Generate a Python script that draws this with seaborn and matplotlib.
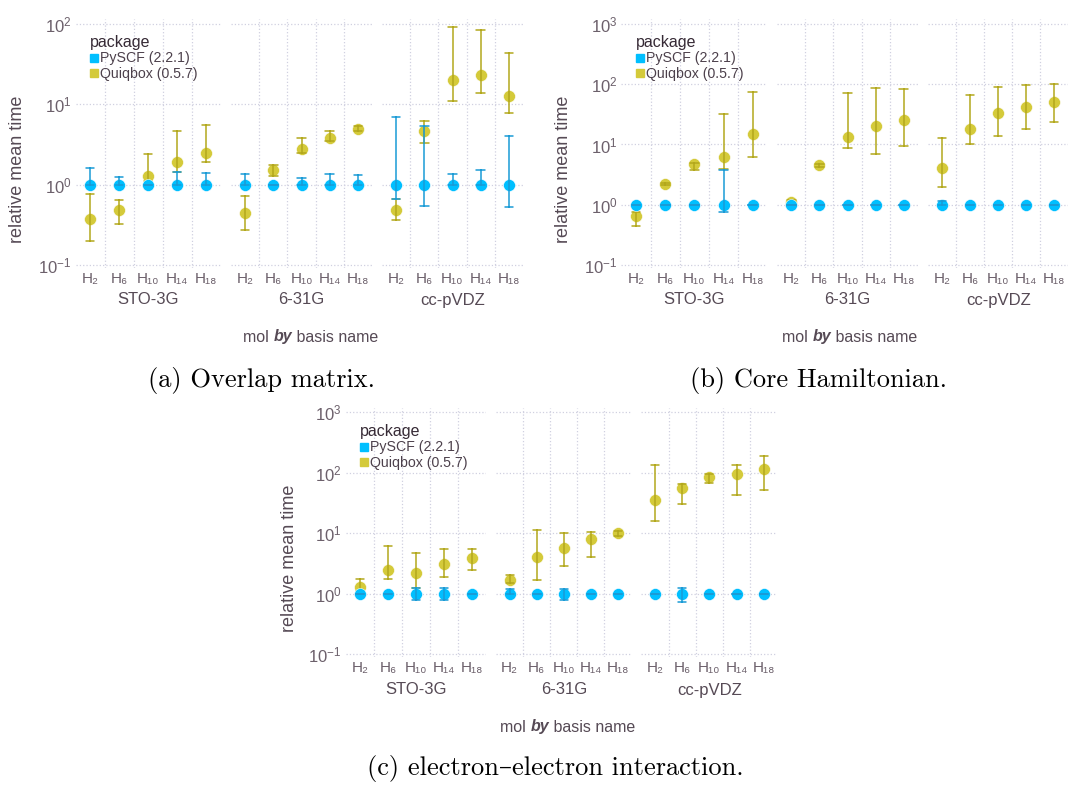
import numpy as np
import pandas as pd
import seaborn as sns
import matplotlib.pyplot as plt
from matplotlib.lines import Line2D

# ----- data (relative mean time, lo / mean / hi) -----
mols = ['H₂', 'H₆', 'H₁₀', 'H₁₄', 'H₁₈']
bases = ['STO-3G', '6-31G', 'cc-pVDZ']
packages = ['PySCF (2.2.1)', 'Quiqbox (0.5.7)']

# values ordered basis by basis (STO-3G, 6-31G, cc-pVDZ), mols H2..H18 inside
pyscf_mean = [1.0, 1.0, 1.0, 1.0, 1.0, 1.0, 1.0, 1.0, 1.0, 1.0, 1.0, 1.0, 1.0, 1.0, 1.0]

# (a) overlap matrix
overlap_pyscf_lo = [1.0, 1.0, 1.0, 1.0, 1.0, 1.0, 1.0, 1.0, 1.0, 1.0, 0.66, 0.55, 1.0, 1.0, 0.53]
overlap_pyscf_hi = [1.62, 1.26, 1.0, 1.45, 1.41, 1.34, 1.0, 1.22, 1.36, 1.32, 7.0, 5.37, 1.36, 1.52, 4.0]
overlap_quiq_mean = [0.37, 0.49, 1.28, 1.93, 2.48, 0.44, 1.51, 2.81, 3.84, 4.88, 0.49, 4.6, 19.9, 23.4, 12.8]
overlap_quiq_lo = [0.197, 0.327, 1.1, 1.45, 1.93, 0.273, 1.3, 2.5, 3.5, 4.6, 0.364, 3.27, 11.0, 13.7, 7.9]
overlap_quiq_hi = [0.76, 0.645, 2.38, 4.7, 5.6, 0.73, 1.77, 3.81, 4.7, 5.4, 0.66, 6.25, 93.0, 85.0, 43.5]

# (b) core Hamiltonian
core_pyscf_lo = [1.0, 1.0, 1.0, 0.756, 1.0, 1.0, 1.0, 1.0, 1.0, 1.0, 1.0, 1.0, 1.0, 1.0, 1.0]
core_pyscf_hi = [1.0, 1.0, 1.0, 3.76, 1.0, 1.0, 1.0, 1.0, 1.0, 1.0, 1.15, 1.0, 1.0, 1.0, 1.0]
core_quiq_mean = [0.65, 2.2, 4.72, 6.17, 15.2, 1.12, 4.54, 13.4, 20.6, 25.3, 4.1, 18.2, 33.0, 42.0, 51.6]
core_quiq_lo = [0.45, 2.1, 3.76, 3.9, 6.25, 1.05, 4.3, 8.8, 6.9, 9.4, 1.94, 10.1, 13.7, 18.0, 23.2]
core_quiq_hi = [0.75, 2.3, 5.0, 31.8, 74.5, 1.2, 4.8, 72.7, 86.0, 84.0, 12.6, 66.0, 89.0, 98.0, 100.0]

# (c) electron-electron interaction
eri_pyscf_lo = [1.0, 1.0, 0.8, 0.8, 1.0, 1.0, 1.0, 0.8, 1.0, 1.0, 1.0, 0.73, 1.0, 1.0, 1.0]
eri_pyscf_hi = [1.0, 1.0, 1.25, 1.25, 1.0, 1.2, 1.0, 1.2, 1.0, 1.0, 1.0, 1.25, 1.0, 1.0, 1.0]
eri_quiq_mean = [1.29, 2.47, 2.17, 3.1, 3.85, 1.7, 4.1, 5.78, 8.05, 10.0, 35.3, 57.0, 86.6, 96.0, 117.0]
eri_quiq_lo = [1.1, 1.77, 1.27, 1.86, 2.47, 1.5, 1.7, 2.83, 4.1, 9.0, 16.2, 30.0, 67.0, 43.0, 52.0]
eri_quiq_hi = [1.77, 6.16, 4.77, 5.4, 5.55, 2.06, 11.2, 10.1, 10.5, 11.0, 133.0, 65.0, 95.0, 132.0, 193.0]

captions = ['(a) Overlap matrix.', '(b) Core Hamiltonian.', '(c) electron–electron interaction.']

# gadfly-like look
pkg_colors = {packages[0]: '#00BFFF', packages[1]: '#D4CA3A'}
err_colors = {packages[0]: '#1a9bd6', packages[1]: '#b3a81c'}
grid_col = '#D0D0E0'
tick_col = '#6c606b'
label_col = '#564a55'

sns.set_style('white')
plt.rcParams['font.family'] = ['Liberation Sans', 'DejaVu Sans']
plt.rcParams['mathtext.fontset'] = 'custom'
plt.rcParams['mathtext.rm'] = 'Liberation Sans'
plt.rcParams['mathtext.it'] = 'Liberation Sans:italic'

W, H = 1086, 785
fig = plt.figure(figsize=(W / 100, H / 100), dpi=100)


def px_axes(x0, y0, x1, y1):
    return fig.add_axes([x0 / W, 1 - y1 / H, (x1 - x0) / W, (y1 - y0) / H])


def fx(x):
    return x / W


def fy(y):
    return 1 - y / H


def long_frame(pyscf_lo, pyscf_hi, quiq_mean, quiq_lo, quiq_hi):
    rows = []
    for pkg, series in [(packages[0], (pyscf_lo, pyscf_mean, pyscf_hi)),
                        (packages[1], (quiq_lo, quiq_mean, quiq_hi))]:
        for i in range(len(bases) * len(mols)):
            for arr in series:
                rows.append({'basis': bases[i // 5], 'mol': mols[i % 5],
                             'package': pkg, 'value': arr[i]})
    return pd.DataFrame(rows)


def min_max(v):
    return (v.min(), v.max())


def draw_panel(df, facets, y0, y1, ylim, decades, ylab_pos, text_y, xlab_x, caption, cap_pos):
    for k, (basis, (x0, x1)) in enumerate(zip(bases, facets)):
        ax = px_axes(x0, y0, x1, y1)
        ax.set_yscale('log')
        # quiqbox first so the pyscf dots sit on top
        for pkg in [packages[1], packages[0]]:
            sub = df[(df['basis'] == basis) & (df['package'] == pkg)]
            sns.pointplot(data=sub, x='mol', y='value', order=mols, ax=ax,
                          estimator='median', errorbar=min_max,
                          color=pkg_colors[pkg], linestyle='none', markers='o',
                          markersize=8.6, markeredgecolor='white', markeredgewidth=0.4,
                          capsize=0.3, err_kws={'linewidth': 1.1, 'color': err_colors[pkg]})
        ax.set_xlim(-0.5, 4.5)
        ax.set_ylim(*ylim)
        ax.set_yticks([10.0 ** d for d in decades])
        ax.yaxis.set_minor_locator(plt.NullLocator())
        ax.set_xticks([0.5, 1.5, 2.5, 3.5], minor=True)
        ax.grid(False)
        ax.grid(True, which='major', axis='y', color=grid_col, linestyle=':', linewidth=0.9)
        ax.grid(True, which='minor', axis='x', color=grid_col, linestyle=':', linewidth=0.9)
        ax.set_axisbelow(True)
        sns.despine(ax=ax, left=True, bottom=True)
        ax.tick_params(which='both', length=0)
        ax.tick_params(axis='x', labelsize=11, colors=tick_col, pad=3)
        if k == 0:
            ax.set_yticklabels(['$10^{%d}$' % d for d in decades])
            ax.tick_params(axis='y', labelsize=12, colors=tick_col, pad=3)
        else:
            ax.set_yticklabels([])
        ax.set_xlabel('')
        ax.set_ylabel('')
        if ax.get_legend():
            ax.get_legend().remove()
        fig.text(fx((x0 + x1) / 2), fy(text_y[0]), basis, ha='center', va='center',
                 fontsize=12, color=label_col)
        if k == 0:
            handles = [Line2D([], [], marker='s', linestyle='none', markersize=6,
                              color=pkg_colors[p]) for p in packages]
            leg = ax.legend(handles, packages, title='package', loc='upper left',
                            bbox_to_anchor=(0.05, 0.965), frameon=False, fontsize=10.2,
                            title_fontsize=11.5, handletextpad=0.1, handlelength=0.6,
                            labelspacing=0.12, borderpad=0, alignment='left')
            for t in leg.get_texts():
                t.set_color('#4c404b')
            leg.get_title().set_color('#362a35')

    fig.text(fx(ylab_pos[0]), fy(ylab_pos[1]), 'relative mean time', rotation=90,
             ha='center', va='center', fontsize=13, color=label_col)
    # "mol by basis name" with the bold-italic "by"
    t_by = fig.text(fx(xlab_x), fy(text_y[1]), 'by', ha='center', va='center',
                    fontsize=11.5, color=label_col, fontweight='bold', fontstyle='italic')
    fig.add_artist(plt.Annotation('mol ', xy=(0, 0.5), xycoords=t_by, ha='right', va='center',
                                  fontsize=11.5, color=label_col))
    fig.add_artist(plt.Annotation(' basis name', xy=(1, 0.5), xycoords=t_by, ha='left', va='center',
                                  fontsize=11.5, color=label_col))
    fig.text(fx(cap_pos[0]), fy(cap_pos[1]), caption, ha='center', va='center',
             fontsize=19, family=['cmr10', 'DejaVu Serif'], color='black')


df_overlap = long_frame(overlap_pyscf_lo, overlap_pyscf_hi, overlap_quiq_mean, overlap_quiq_lo, overlap_quiq_hi)
df_core = long_frame(core_pyscf_lo, core_pyscf_hi, core_quiq_mean, core_quiq_lo, core_quiq_hi)
df_eri = long_frame(eri_pyscf_lo, eri_pyscf_hi, eri_quiq_mean, eri_quiq_lo, eri_quiq_hi)

draw_panel(df_overlap, [(75.5, 220.5), (231, 372), (382, 523)], 19, 268,
           (10 ** -1.037, 10 ** 2.062), [-1, 0, 1, 2], (18, 169), (300, 337), 283,
           captions[0], (262, 380))
draw_panel(df_core, [(621.4, 767.3), (777.3, 917.7), (928, 1068.3)], 19, 268,
           (10 ** -1.05, 10 ** 3.083), [-1, 0, 1, 2, 3], (564, 169), (300, 337), 822,
           captions[1], (818, 380))
draw_panel(df_eri, [(346, 486.3), (496.1, 631.5), (641.4, 777.3)], 408, 657,
           (10 ** -1.045, 10 ** 3.071), [-1, 0, 1, 2, 3], (290, 558), (690, 727), 540,
           captions[2], (555, 768))

fig.savefig('out.png', dpi=100)
